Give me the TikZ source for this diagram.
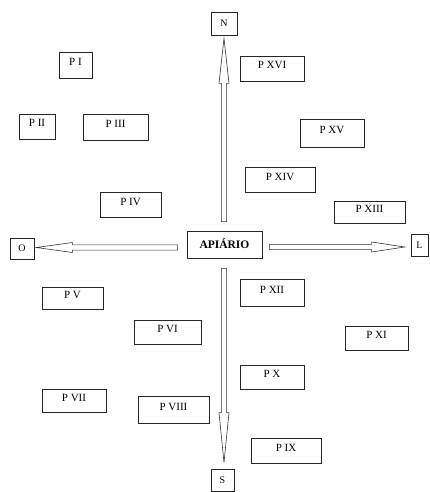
\documentclass[tikz,border=0pt]{standalone}
\usepackage{fontspec}
\setmainfont{Liberation Serif}
\usetikzlibrary{calc}

\tikzset{
  pbox/.style={draw=black!85, line width=0.7pt, rectangle, inner sep=0pt,
    text height=7pt, text depth=6pt,
    font=\fontsize{11}{13}\selectfont},
  dirbox/.style={draw=black!85, line width=0.7pt, rectangle, inner sep=0pt,
    font=\fontsize{10}{12}\selectfont},
  hubbox/.style={draw=black!85, line width=0.8pt, rectangle, inner sep=0pt,
    text height=7.5pt, text depth=0pt,
    font=\fontsize{11.5}{13}\selectfont\bfseries},
  blockarr/.style={draw=black!80, line width=0.6pt, fill=white, line join=miter},
}

% hollow block arrow from #1 (tail) to #2 (tip), head length #3 (pt)
\newcommand\blockarrow[3]{%
  \coordinate (hb) at ($(#2)!#3pt!(#1)$);
  \draw[blockarr]
    ($(#1)!2.6pt!90:(#2)$) -- ($(hb)!2.6pt!-90:(#1)$) -- ($(hb)!5pt!-90:(#1)$)
    -- (#2) -- ($(hb)!5pt!90:(#1)$) -- ($(hb)!2.6pt!90:(#1)$)
    -- ($(#1)!2.6pt!-90:(#2)$) -- cycle;
}

\begin{document}
\begin{tikzpicture}[x=1pt, y=-1pt]
  \useasboundingbox (0,0) rectangle (429,492);

  % central hive
  \node[hubbox, minimum width=75pt, minimum height=27pt] (api) at (224.5,244.5) {APIÁRIO};

  % cardinal points
  \node[dirbox, minimum width=26pt, minimum height=23pt] (N) at (224,23.5) {N};
  \node[dirbox, minimum width=23pt, minimum height=22pt] (S) at (222.5,480) {S};
  \node[dirbox, minimum width=24pt, minimum height=21pt] (O) at (22,248.5) {O};
  \node[dirbox, minimum width=17pt, minimum height=22pt] (L) at (419.5,245) {L};

  % plots
  \node[pbox, minimum width=33pt, minimum height=26pt] (p1)  at (75.5,65)    {P I};
  \node[pbox, minimum width=36pt, minimum height=25pt] (p2)  at (37,126.5)   {P II};
  \node[pbox, minimum width=65pt, minimum height=26pt] (p3)  at (115.5,127)  {P III};
  \node[pbox, minimum width=61pt, minimum height=25pt] (p4)  at (130.5,204.5){P IV};
  \node[pbox, minimum width=61pt, minimum height=22pt] (p5)  at (72.5,298)   {P V};
  \node[pbox, minimum width=67pt, minimum height=24pt] (p6)  at (167.5,332)  {P VI};
  \node[pbox, minimum width=64pt, minimum height=23pt] (p7)  at (74,400.5)   {P VII};
  \node[pbox, minimum width=71pt, minimum height=27pt] (p8)  at (173.5,409.5){P VIII};
  \node[pbox, minimum width=70pt, minimum height=25pt] (p9)  at (286,450.5)  {P IX};
  \node[pbox, minimum width=64pt, minimum height=24pt] (p10) at (272,377)    {P X};
  \node[pbox, minimum width=63pt, minimum height=24pt] (p11) at (376.5,338)  {P XI};
  \node[pbox, minimum width=64pt, minimum height=27pt] (p12) at (272,292.5)  {P XII};
  \node[pbox, minimum width=71pt, minimum height=22pt] (p13) at (369.5,212)  {P XIII};
  \node[pbox, minimum width=70pt, minimum height=25pt] (p14) at (280,179.5)  {P XIV};
  \node[pbox, minimum width=64pt, minimum height=28pt] (p15) at (332,133)    {P XV};
  \node[pbox, minimum width=64pt, minimum height=25pt] (p16) at (272,68.5)   {P XVI};

  % arrow ends
  \coordinate (nTail) at ($(api.north)+(-0.5,-9)$);
  \coordinate (nTip)  at ($(N.south)+(0,3)$);
  \coordinate (sTail) at ($(api.south)+(-0.5,10)$);
  \coordinate (sTip)  at ($(S.north)+(1.5,-6)$);
  \coordinate (oTail) at ($(api.west)+(-9,3)$);
  \coordinate (oTip)  at ($(O.east)+(2,-1)$);
  \coordinate (lTail) at ($(api.east)+(7,2.5)$);
  \coordinate (lTip)  at ($(L.west)+(-6,2)$);

  \blockarrow{nTail}{nTip}{45}
  \blockarrow{sTail}{sTip}{50}
  \blockarrow{oTail}{oTip}{36}
  \blockarrow{lTail}{lTip}{33}
\end{tikzpicture}
\end{document}
